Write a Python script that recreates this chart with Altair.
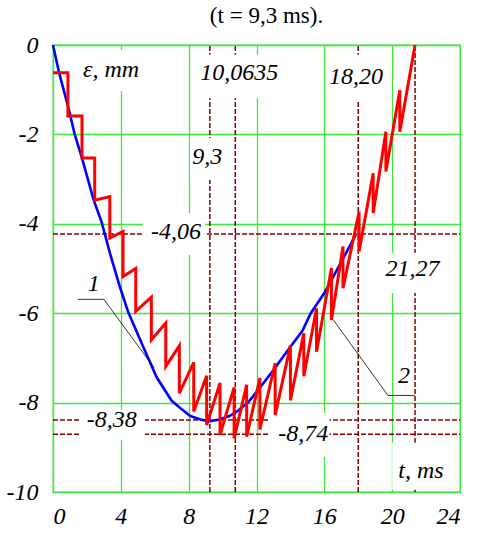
import altair as alt
import pandas as pd

# curve 1 (blue)
blue_t = [0, 0.36, 0.88, 1.28, 1.71, 2.4, 2.86, 3.36, 3.95, 4.44, 5.33, 6.12, 7.0, 7.5, 8.1,
          8.7, 9.2, 9.8, 10.4, 10.85, 11.5, 12.03, 13.0, 14.0, 14.7, 15.2, 16.0, 16.96, 17.85]
blue_y = [0, -0.62, -1.36, -2.0, -2.53, -3.47, -3.95, -4.66, -5.42, -5.98, -6.76, -7.44, -7.96,
          -8.12, -8.3, -8.38, -8.42, -8.38, -8.3, -8.2, -8.0, -7.75, -7.27, -6.75, -6.4, -6.0,
          -5.55, -4.88, -4.25]

# curve 2 (red sawtooth)
red_t = [0, 0.88, 0.88, 1.71, 1.71, 2.46, 2.46, 3.35, 3.35, 4.13, 4.13, 4.88, 4.88, 5.8, 5.8,
         6.65, 6.65, 7.45, 7.45, 8.3, 8.3, 9.06, 9.06, 9.85, 9.85, 10.68, 10.68, 11.42, 11.42,
         12.2, 12.2, 13.1, 13.1, 14.0, 14.0, 14.79, 14.79, 15.54, 15.54, 16.42, 16.42, 17.1,
         17.1, 18.05, 18.05, 18.88, 18.88, 19.63, 19.63, 20.45, 20.45, 21.35]
red_y = [-0.62, -0.62, -1.59, -1.59, -2.53, -2.53, -3.47, -3.39, -4.32, -4.17, -5.18, -5.0,
         -5.96, -5.64, -6.6, -6.22, -7.19, -6.73, -7.79, -7.1, -8.2, -7.4, -8.5, -7.56, -8.72,
         -7.66, -8.8, -7.6, -8.76, -7.45, -8.6, -7.12, -8.28, -6.72, -7.95, -6.45, -7.41, -5.89,
         -6.86, -4.99, -6.15, -4.51, -5.44, -3.73, -4.62, -2.87, -3.76, -1.94, -2.83, -1.01,
         -1.94, 0]

# dashed reference lines
vline_t = [9.25, 10.75, 18.0, 21.35]
hline_y = [-4.23, -8.39, -8.71]

# annotation labels
label_text = ["ε, mm", "10,0635", "9,3", "18,20", "-4,06", "21,27", "-8,38", "-8,74", "t, ms", "1", "2"]
label_t = [3.42, 10.98, 9.1, 17.86, 7.25, 21.2, 3.47, 14.75, 21.7, 2.41, 20.7]
label_y = [-0.56, -0.63, -2.51, -0.72, -4.18, -5.01, -8.38, -8.7, -9.52, -5.34, -7.4]

# white label backgrounds
box_t1 = [1.28, 8.67, 8.08, 16.2, 5.3, 19.3, 1.58, 12.8, 20.0]
box_t2 = [5.72, 13.3, 10.3, 19.6, 8.96, 23.1, 5.42, 16.3, 23.7]
box_y1 = [-0.11, -0.22, -2.08, -0.22, -3.76, -4.65, -8.16, -8.23, -8.9]
box_y2 = [-1.03, -1.19, -3.02, -1.23, -4.7, -5.55, -8.83, -9.21, -9.95]

# leader lines
lead_id = [1, 1, 1, 2, 2, 2]
lead_t = [1.46, 3.0, 5.96, 16.55, 19.75, 21.33]
lead_y = [-5.69, -5.69, -7.22, -6.16, -7.84, -7.84]

x_ticks = [0, 4, 8, 12, 16, 20, 24]
y_ticks = [0, -2, -4, -6, -8, -10]

FONT = "Liberation Serif, Times New Roman, serif"
GREEN = "#3ee83e"
DRED = "#800000"

xscale = alt.Scale(domain=[0, 24], nice=False, zero=False)
yscale = alt.Scale(domain=[-10, 0], nice=False, zero=False)
xaxis = alt.Axis(values=x_ticks, title=None, grid=True, domain=False, ticks=False,
                 labelExpr="'' + datum.value",
                 labelFont=FONT, labelFontStyle="italic", labelFontSize=24, labelColor="black",
                 labelPadding=12, gridColor=GREEN, gridWidth=1.3, gridOpacity=1)
yaxis = alt.Axis(values=y_ticks, title=None, grid=True, domain=False, ticks=False,
                 labelExpr="'' + datum.value",
                 labelFont=FONT, labelFontStyle="italic", labelFontSize=24, labelColor="black",
                 labelPadding=15, gridColor=GREEN, gridWidth=1.3, gridOpacity=1)


def X(f):
    return alt.X(f, type="quantitative", scale=xscale, axis=xaxis)


def Y(f):
    return alt.Y(f, type="quantitative", scale=yscale, axis=yaxis)


blue_df = pd.DataFrame({"t": blue_t, "y": blue_y, "i": range(len(blue_t))})
red_df = pd.DataFrame({"t": red_t, "y": red_y, "i": range(len(red_t))})
v_df = pd.DataFrame({"t": vline_t, "ya": [-10] * len(vline_t), "yb": [0] * len(vline_t)})
h_df = pd.DataFrame({"y": hline_y, "ta": [0] * len(hline_y), "tb": [24] * len(hline_y)})
lab_df = pd.DataFrame({"t": label_t, "y": label_y, "txt": label_text})
box_df = pd.DataFrame({"t1": box_t1, "t2": box_t2, "y1": box_y1, "y2": box_y2})
lead_df = pd.DataFrame({"t": lead_t, "y": lead_y, "g": lead_id, "i": range(len(lead_t))})

vrules = alt.Chart(v_df).mark_rule(color=DRED, strokeWidth=1.5, strokeDash=[5, 2]).encode(
    x=X("t"), y=Y("ya"), y2="yb")
hrules = alt.Chart(h_df).mark_rule(color=DRED, strokeWidth=1.5, strokeDash=[5, 2]).encode(
    y=Y("y"), x=X("ta"), x2="tb")
boxes = alt.Chart(box_df).mark_rect(color="white").encode(
    x=X("t1"), x2="t2", y=Y("y1"), y2="y2")
blue = alt.Chart(blue_df).mark_line(color="#0000ff", strokeWidth=2.6).encode(
    x=X("t"), y=Y("y"), order="i:Q")
red = alt.Chart(red_df).mark_line(color="#ff0000", strokeWidth=3, strokeJoin="miter").encode(
    x=X("t"), y=Y("y"), order="i:Q")
leads = alt.Chart(lead_df).mark_line(color="black", strokeWidth=0.8).encode(
    x=X("t"), y=Y("y"), detail="g:N", order="i:Q")
labels = alt.Chart(lab_df).mark_text(font=FONT, fontStyle="italic", fontSize=24,
                                     color="black", align="center", baseline="middle").encode(
    x=X("t"), y=Y("y"), text="txt:N")

chart = alt.layer(vrules, hrules, boxes, blue, red, leads, labels).properties(
    width=407, height=447,
    autosize=alt.AutoSizeParams(type="none"),
    padding={"left": 53, "top": 45, "right": 18, "bottom": 44},
    title=alt.TitleParams("(t = 9,3 ms).", font=FONT, fontSize=23, fontWeight="normal",
                          color="black", anchor="middle", dx=10, offset=5),
).configure_view(stroke=GREEN, strokeWidth=1.3)

chart.save("out.html", embed_options={"renderer": "svg", "actions": False})
